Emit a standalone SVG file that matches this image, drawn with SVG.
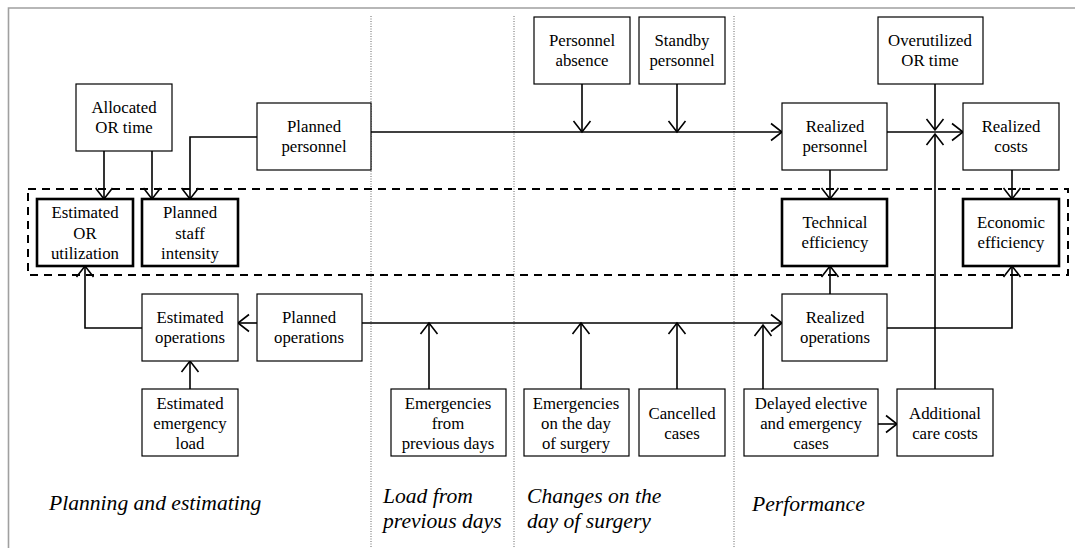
<svg xmlns="http://www.w3.org/2000/svg" width="1075" height="548" viewBox="0 0 1075 548" font-family="'Liberation Serif', serif">
<style>
.box{fill:#fff;stroke:#000;stroke-width:1.2}
.bold{fill:#fff;stroke:#000;stroke-width:2.6}
.t{font-size:16.8px;fill:#000;text-anchor:middle}
.lab{font-size:21.6px;font-style:italic;fill:#000}
.ca{fill:none;stroke:#000;stroke-width:1.6;marker-end:url(#ah)}
.sep{stroke:#666;stroke-width:1;stroke-dasharray:1 1.5}
</style>
<defs>
<marker id="ah" markerUnits="userSpaceOnUse" markerWidth="24" markerHeight="24" refX="12" refY="12" orient="auto" viewBox="0 0 24 24">
<path d="M1 3.5 L12 12 L1 20.5" fill="none" stroke="#000" stroke-width="1.6"/>
</marker>
</defs>
<rect width="1075" height="548" fill="#fff"/>
<g id="frame">
<path d="M8.5 548 V8 H1075" fill="none" stroke="#a0a0a0" stroke-width="1.6"/>
</g>
<g id="separators">
<line class="sep" x1="371" y1="16" x2="371" y2="548"/>
<line class="sep" x1="514" y1="16" x2="514" y2="548"/>
<line class="sep" x1="734" y1="16" x2="734" y2="548"/>
</g>
<g id="dashed-group">
<rect x="28" y="189" width="1040" height="86" fill="none" stroke="#000" stroke-width="2" stroke-dasharray="8 6"/>
</g>
<g id="connectors">
<path class="ca" d="M104 151 V199"/>
<path class="ca" d="M152 151 V199"/>
<path class="ca" d="M257 137 H190 V199"/>
<path class="ca" d="M371 132 H782"/>
<path class="ca" d="M582 84 V132"/>
<path class="ca" d="M677 84 V132"/>
<path class="ca" d="M887 132 H963"/>
<path class="ca" d="M935 84 V130"/>
<path class="ca" d="M935 389 V134"/>
<path class="ca" d="M830 170 V199"/>
<path class="ca" d="M1012 170 V199"/>
<path class="ca" d="M257 323 H238"/>
<path class="ca" d="M142 328 H85 V266"/>
<path class="ca" d="M190 389 V361"/>
<path class="ca" d="M362 323 H782"/>
<path class="ca" d="M429 389 V323"/>
<path class="ca" d="M581 389 V323"/>
<path class="ca" d="M677 389 V323"/>
<path class="ca" d="M763 389 V325"/>
<path class="ca" d="M878 424 H897"/>
<path class="ca" d="M830 294 V266"/>
<path class="ca" d="M887 328 H1012 V266"/>
</g>
<g id="allocated-or-time"><rect class="box" x="76" y="84" width="96" height="67"/><text class="t" x="124" y="113">Allocated</text><text class="t" x="124" y="133">OR time</text></g>
<g id="planned-personnel"><rect class="box" x="257" y="103" width="114" height="67"/><text class="t" x="314" y="132">Planned</text><text class="t" x="314" y="152">personnel</text></g>
<g id="estimated-or-utilization"><rect class="bold" x="37" y="199" width="96" height="67"/><text class="t" x="85" y="218">Estimated</text><text class="t" x="85" y="239">OR</text><text class="t" x="85" y="259">utilization</text></g>
<g id="planned-staff-intensity"><rect class="bold" x="142" y="199" width="96" height="67"/><text class="t" x="190" y="218">Planned</text><text class="t" x="190" y="239">staff</text><text class="t" x="190" y="259">intensity</text></g>
<g id="personnel-absence"><rect class="box" x="534" y="17" width="96" height="67"/><text class="t" x="582" y="46">Personnel</text><text class="t" x="582" y="66">absence</text></g>
<g id="standby-personnel"><rect class="box" x="639" y="17" width="86" height="67"/><text class="t" x="682" y="46">Standby</text><text class="t" x="682" y="66">personnel</text></g>
<g id="overutilized-or-time"><rect class="box" x="878" y="17" width="105" height="67"/><text class="t" x="930" y="46">Overutilized</text><text class="t" x="930" y="66">OR time</text></g>
<g id="realized-personnel"><rect class="box" x="782" y="103" width="105" height="67"/><text class="t" x="835" y="132">Realized</text><text class="t" x="835" y="152">personnel</text></g>
<g id="realized-costs"><rect class="box" x="963" y="103" width="96" height="67"/><text class="t" x="1011" y="132">Realized</text><text class="t" x="1011" y="152">costs</text></g>
<g id="technical-efficiency"><rect class="bold" x="782" y="199" width="105" height="67"/><text class="t" x="835" y="228">Technical</text><text class="t" x="835" y="248">efficiency</text></g>
<g id="economic-efficiency"><rect class="bold" x="963" y="199" width="96" height="67"/><text class="t" x="1011" y="228">Economic</text><text class="t" x="1011" y="248">efficiency</text></g>
<g id="estimated-operations"><rect class="box" x="142" y="294" width="96" height="67"/><text class="t" x="190" y="323">Estimated</text><text class="t" x="190" y="343">operations</text></g>
<g id="planned-operations"><rect class="box" x="257" y="294" width="105" height="67"/><text class="t" x="309" y="323">Planned</text><text class="t" x="309" y="343">operations</text></g>
<g id="estimated-emergency-load"><rect class="box" x="142" y="389" width="96" height="67"/><text class="t" x="190" y="409">Estimated</text><text class="t" x="190" y="429">emergency</text><text class="t" x="190" y="449">load</text></g>
<g id="emergencies-previous-days"><rect class="box" x="391" y="389" width="115" height="67"/><text class="t" x="448" y="409">Emergencies</text><text class="t" x="448" y="429">from</text><text class="t" x="448" y="449">previous days</text></g>
<g id="emergencies-day-of-surgery"><rect class="box" x="524" y="389" width="105" height="67"/><text class="t" x="576" y="409">Emergencies</text><text class="t" x="576" y="429">on the day</text><text class="t" x="576" y="449">of surgery</text></g>
<g id="cancelled-cases"><rect class="box" x="639" y="389" width="86" height="67"/><text class="t" x="682" y="419">Cancelled</text><text class="t" x="682" y="439">cases</text></g>
<g id="realized-operations"><rect class="box" x="782" y="294" width="105" height="67"/><text class="t" x="835" y="323">Realized</text><text class="t" x="835" y="343">operations</text></g>
<g id="delayed-cases"><rect class="box" x="744" y="389" width="134" height="67"/><text class="t" x="811" y="409">Delayed elective</text><text class="t" x="811" y="429">and emergency</text><text class="t" x="811" y="449">cases</text></g>
<g id="additional-care-costs"><rect class="box" x="897" y="389" width="96" height="67"/><text class="t" x="945" y="419">Additional</text><text class="t" x="945" y="439">care costs</text></g>
<g id="labels">
<text class="lab" x="49" y="510">Planning and estimating</text>
<text class="lab" x="383" y="503">Load from</text>
<text class="lab" x="383" y="528">previous days</text>
<text class="lab" x="527" y="503">Changes on the</text>
<text class="lab" x="527" y="528">day of surgery</text>
<text class="lab" x="752" y="511">Performance</text>
</g>
</svg>
